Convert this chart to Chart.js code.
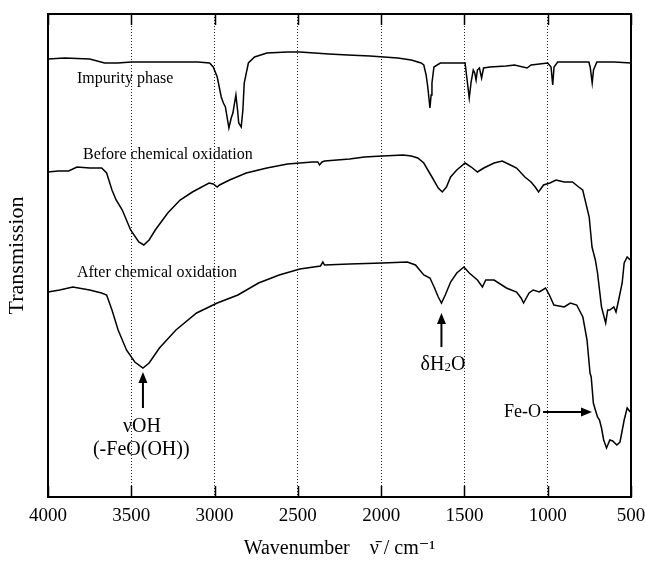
<!DOCTYPE html>
<html>
<head>
<meta charset="utf-8">
<script src="https://cdn.jsdelivr.net/npm/chart.js@4.4.1/dist/chart.umd.min.js"></script>
<style>
  html, body { margin: 0; padding: 0; background: #fff; }
  #wrap { width: 645px; height: 561px; position: relative; }
</style>
</head>
<body>
<div id="wrap"><canvas id="irChart"></canvas></div>
<script>
// FT-IR spectra (transmission in arbitrary units)
const xTicks = [4000, 3500, 3000, 2500, 2000, 1500, 1000, 500];

const impurityNu = [4000, 3900, 3750, 3660, 3580, 3500, 3300, 3100, 3030, 3008,
    2984, 2960, 2947, 2935, 2914, 2900, 2890, 2872, 2862, 2855,
    2840, 2830, 2822, 2797, 2760, 2686, 2562, 2488, 2400, 2314,
    2200, 2067, 1900, 1819, 1760, 1744, 1730, 1720, 1707, 1700,
    1695, 1683, 1645, 1560, 1496, 1484, 1471, 1460, 1447, 1438,
    1430, 1422, 1410, 1397, 1385, 1347, 1250, 1199, 1124, 1100,
    1000, 980, 970, 962, 940, 850, 753, 745, 733, 725,
    705, 600, 500];
const impurityT = [438, 439, 438, 434, 434, 435, 435, 435, 434, 430,
    420, 400, 394, 390, 369, 379, 384, 402, 387, 374,
    370, 387, 414, 434, 440, 444, 445, 445, 444, 443,
    442, 441, 439, 437, 434, 432, 422, 410, 389, 402,
    414, 430, 434, 434, 434, 417, 399, 415, 427, 424,
    417, 427, 429, 419, 429, 430, 431, 432, 429, 432,
    434, 430, 412, 430, 435, 435, 435, 430, 414, 427,
    435, 435, 434];

const beforeNu = [4000, 3940, 3876, 3826, 3750, 3678, 3648, 3616, 3591, 3554,
    3504, 3455, 3425, 3393, 3356, 3281, 3207, 3133, 3033, 3008,
    2984, 2970, 2910, 2810, 2686, 2562, 2413, 2380, 2370, 2355,
    2339, 2190, 2100, 1992, 1868, 1819, 1780, 1744, 1695, 1657,
    1633, 1608, 1583, 1546, 1496, 1459, 1422, 1384, 1322, 1273,
    1224, 1187, 1137, 1100, 1075, 1055, 1025, 987, 950, 901,
    851, 814, 790, 751, 734, 714, 701, 677, 652, 640,
    627, 603, 590, 578, 553, 541, 523, 504];
const beforeT = [325, 326, 326, 330, 329, 329, 324, 307, 297, 287,
    267, 255, 252, 257, 267, 284, 297, 305, 314, 313,
    310, 312, 317, 324, 329, 333, 335, 335, 332, 335,
    336, 338, 340, 341, 342, 341, 339, 334, 320, 309,
    305, 310, 320, 327, 334, 330, 325, 329, 334, 336,
    332, 329, 320, 315, 310, 305, 312, 314, 317, 315,
    315, 310, 307, 280, 250, 237, 224, 190, 174, 187,
    187, 190, 185, 194, 214, 234, 240, 237];

const afterNu = [4000, 3930, 3851, 3750, 3678, 3648, 3616, 3579, 3529, 3479,
    3430, 3393, 3331, 3232, 3108, 2984, 2860, 2736, 2612, 2488,
    2364, 2350, 2340, 2190, 1992, 1843, 1794, 1744, 1707, 1682, 1657,
    1638, 1615, 1583, 1546, 1503, 1471, 1422, 1392, 1372, 1322,
    1248, 1187, 1160, 1145, 1112, 1087, 1050, 1013, 990, 963,
    901, 864, 826, 789, 764, 746, 739, 726, 714, 701,
    689, 677, 664, 647, 627, 610, 585, 566, 541, 523,
    504];
const afterT = [205, 207, 210, 207, 204, 202, 187, 167, 147, 135,
    129, 134, 149, 167, 184, 194, 202, 214, 222, 228,
    231, 235, 232, 233, 234, 235, 232, 222, 219, 210, 200,
    194, 202, 215, 224, 230, 224, 217, 210, 217, 217,
    209, 205, 199, 194, 204, 207, 205, 209, 202, 192,
    190, 194, 192, 180, 157, 124, 120, 94, 87, 80,
    77, 69, 57, 49, 57, 56, 52, 55, 77, 89,
    85];

function toPoints(nu, t) {
    return nu.map((v, i) => ({ x: v, y: t[i] }));
}

const serif = "'Liberation Serif', 'DejaVu Serif', serif";

// рамка, внутренние засечки и подписи на графике
const decorPlugin = {
    id: "decor",
    afterDraw(chart) {
        const ctx = chart.ctx;
        const xs = chart.scales.x;
        const ys = chart.scales.y;
        const a = chart.chartArea;
        const px = v => xs.getPixelForValue(v);
        const py = v => ys.getPixelForValue(v);

        ctx.save();
        ctx.strokeStyle = "#000";
        ctx.fillStyle = "#000";

        // frame
        ctx.lineWidth = 2;
        ctx.strokeRect(a.left, a.top, a.right - a.left, a.bottom - a.top);

        // inner ticks top and bottom
        ctx.lineWidth = 1.5;
        xTicks.forEach(t => {
            const x = Math.round(px(t)) + 0.5;
            ctx.beginPath();
            ctx.moveTo(x, a.top);
            ctx.lineTo(x, a.top + 11);
            ctx.moveTo(x, a.bottom);
            ctx.lineTo(x, a.bottom - 11);
            ctx.stroke();
        });

        // text labels
        ctx.textBaseline = "middle";
        ctx.textAlign = "left";
        ctx.font = "16px " + serif;
        ctx.fillText("Impurity phase", px(3826), py(418));
        ctx.fillText("Before chemical oxidation", px(3790), py(342));
        ctx.fillText("After chemical oxidation", px(3826), py(224));

        function arrow(x1, y1, x2, y2) {
            const ang = Math.atan2(y2 - y1, x2 - x1);
            const hl = 11, hw = 4.5;
            ctx.lineWidth = 2;
            ctx.beginPath();
            ctx.moveTo(x1, y1);
            ctx.lineTo(x2 - Math.cos(ang) * hl * 0.8, y2 - Math.sin(ang) * hl * 0.8);
            ctx.stroke();
            ctx.beginPath();
            ctx.moveTo(x2, y2);
            ctx.lineTo(x2 - Math.cos(ang) * hl - Math.sin(ang) * hw, y2 - Math.sin(ang) * hl + Math.cos(ang) * hw);
            ctx.lineTo(x2 - Math.cos(ang) * hl + Math.sin(ang) * hw, y2 - Math.sin(ang) * hl - Math.cos(ang) * hw);
            ctx.closePath();
            ctx.fill();
        }

        // vOH
        arrow(px(3430), py(89), px(3430), py(125));
        ctx.textAlign = "center";
        ctx.font = "20px " + serif;
        ctx.fillText("νOH", px(3436), py(70));
        ctx.fillText("(-FeO(OH))", px(3440), py(47));

        // δH2O
        arrow(px(1638), py(150), px(1638), py(184));
        ctx.textAlign = "left";
        const big = "20px " + serif, small = "13px " + serif;
        ctx.font = big;
        const w1 = ctx.measureText("δH").width;
        const w3 = ctx.measureText("O").width;
        ctx.font = small;
        const w2 = ctx.measureText("2").width;
        const tx = px(1629) - (w1 + w2 + w3) / 2;
        const ty = py(132);
        ctx.font = big;
        ctx.fillText("δH", tx, ty);
        ctx.font = small;
        ctx.fillText("2", tx + w1, ty + 3);
        ctx.font = big;
        ctx.fillText("O", tx + w1 + w2, ty);

        // Fe-O
        ctx.font = "18px " + serif;
        ctx.textAlign = "right";
        ctx.fillText("Fe-O", px(1040), py(85));
        arrow(px(1028), py(85), px(734), py(85));

        ctx.restore();
    }
};

new Chart(document.getElementById("irChart"), {
    type: "line",
    data: {
        datasets: [
            { label: "Impurity phase", data: toPoints(impurityNu, impurityT) },
            { label: "Before chemical oxidation", data: toPoints(beforeNu, beforeT) },
            { label: "After chemical oxidation", data: toPoints(afterNu, afterT) },
        ],
    },
    options: {
        responsive: true,
        maintainAspectRatio: false,
        animation: false,
        parsing: false,
        layout: { padding: { top: 14, right: 14, left: 0, bottom: 0 } },
        elements: {
            line: { borderColor: "#000", borderWidth: 1.5, tension: 0, fill: false },
            point: { radius: 0 },
        },
        plugins: {
            legend: { display: false },
            tooltip: { enabled: false },
        },
        scales: {
            x: {
                type: "linear",
                reverse: true,
                min: 500,
                max: 4000,
                afterBuildTicks: scale => {
                    scale.ticks = xTicks.map(v => ({ value: v }));
                },
                afterFit: scale => {
                    scale.height = 64;
                    scale.paddingLeft = 0;
                    scale.paddingRight = 0;
                },
                grid: { color: "#222", lineWidth: 1, drawTicks: false },
                border: { display: false, dash: [1, 2] },
                ticks: {
                    color: "#000",
                    font: { family: serif, size: 19 },
                    padding: 8,
                    maxRotation: 0,
                    autoSkip: false,
                    callback: v => String(v),
                },
                title: {
                    display: true,
                    text: "Wavenumber    ν̄ / cm⁻¹",
                    color: "#000",
                    font: { family: serif, size: 20 },
                    padding: { top: 0, bottom: 0 },
                },
            },
            y: {
                min: 0,
                max: 483,
                afterFit: scale => { scale.width = 48; },
                grid: { display: false },
                border: { display: false },
                ticks: { display: false },
                title: {
                    display: true,
                    text: "Transmission",
                    color: "#000",
                    font: { family: serif, size: 22 },
                    padding: { top: 4, bottom: 0 },
                },
            },
        },
    },
    plugins: [decorPlugin],
});
</script>
</body>
</html>
